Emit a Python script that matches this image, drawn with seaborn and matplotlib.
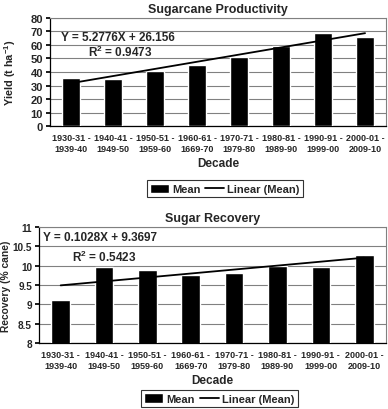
import numpy as np
import matplotlib.pyplot as plt
import seaborn as sns

decades = ["1930-31 -\n1939-40", "1940-41 -\n1949-50", "1950-51 -\n1959-60",
           "1960-61 -\n1669-70", "1970-71 -\n1979-80", "1980-81 -\n1989-90",
           "1990-91 -\n1999-00", "2000-01 -\n2009-10"]
yield_mean = [35.5, 34.8, 40.8, 45.5, 51.0, 59.5, 68.5, 66.0]
recovery_mean = [9.1, 9.97, 9.9, 9.75, 9.82, 10.0, 9.96, 10.28]

yield_eq = "Y = 5.2776X + 26.156"
yield_r2 = "R$^2$ = 0.9473"
rec_eq = "Y = 0.1028X + 9.3697"
rec_r2 = "R$^2$ = 0.5423"

sns.set_theme(style="white")
plt.rcParams['font.family'] = ['Liberation Sans', 'DejaVu Sans']
plt.rcParams['font.weight'] = 'bold'
plt.rcParams['mathtext.fontset'] = 'custom'
plt.rcParams['mathtext.bf'] = 'Liberation Sans:bold'
plt.rcParams['mathtext.rm'] = 'Liberation Sans:bold'
plt.rcParams['mathtext.default'] = 'bf'

fig = plt.figure(figsize=(3.88, 4.10), dpi=100)
ax1 = fig.add_axes([0.129, 0.690, 0.866, 0.264])
ax2 = fig.add_axes([0.1005, 0.161, 0.894, 0.283])

pos = np.arange(len(decades))


def draw(ax, values, title, ylabel, ylim, yticks, yticklabels, eq, r2, eqpos, r2pos,
         leg_y, ylab_x, ytick_size, ylab_size):
    bars = ax.bar(pos, values, width=0.43, color="black", zorder=3, label="Mean")
    sns.regplot(x=pos, y=values, ax=ax, scatter=False, ci=None, truncate=True,
                line_kws=dict(color="black", lw=1.3, zorder=4))
    trend = ax.lines[-1]
    ax.set_xlim(-0.5, len(decades) - 0.5)
    ax.set_ylim(*ylim)
    ax.set_yticks(yticks)
    ax.set_yticklabels(yticklabels, fontsize=ytick_size, fontweight="bold")
    ax.set_xticks(pos)
    ax.set_xticklabels(decades, fontsize=6.5, fontweight="bold", linespacing=1.25)
    ax.set_xticks(np.arange(-0.5, len(decades)), minor=True)
    ax.tick_params(axis="x", which="major", length=0, pad=5)
    ax.tick_params(axis="x", which="minor", length=3, color="black", direction="out")
    ax.tick_params(axis="y", length=3, color="black", direction="out", pad=2, left=True)
    ax.yaxis.grid(True, color="#808080", lw=0.8, zorder=0)
    ax.set_axisbelow(True)
    for s in ["top", "right"]:
        ax.spines[s].set_color("#808080")
        ax.spines[s].set_linewidth(0.8)
    for s in ["left", "bottom"]:
        ax.spines[s].set_color("black")
        ax.spines[s].set_linewidth(0.9)
    ax.set_title(title, fontsize=9, fontweight="bold", pad=4)
    ax.set_ylabel(ylabel, fontsize=ylab_size, fontweight="bold")
    ax.yaxis.set_label_coords(ylab_x, 0.5)
    ax.set_xlabel("Decade", fontsize=8.5, fontweight="bold", labelpad=3)
    ax.text(eqpos[0], eqpos[1], eq, fontsize=8.5, fontweight="bold", va="center")
    ax.text(r2pos[0], r2pos[1], r2, fontsize=8.5, fontweight="bold", va="center")
    leg = ax.legend([bars, trend], ["Mean", "Linear (Mean)"], loc="center",
                    bbox_to_anchor=(0.52, leg_y), ncol=2, frameon=True, fancybox=False,
                    edgecolor="black", handlelength=1.7, handleheight=0.9,
                    handletextpad=0.3, columnspacing=0.4, borderpad=0.3,
                    prop=dict(weight="bold", size=8))
    leg.get_frame().set_linewidth(0.8)


draw(ax1, yield_mean, "Sugarcane Productivity", "Yield (t ha$^{-1}$)",
     (0, 80), np.arange(0, 81, 10), [str(v) for v in range(0, 81, 10)],
     yield_eq, yield_r2, (-0.25, 65.5), (0.4, 55.5), -0.58, -0.095, 8, 7.8)
draw(ax2, recovery_mean, "Sugar Recovery", "Recovery (% cane)",
     (8, 11), np.arange(8, 11.01, 0.5), ["8", "8.5", "9", "9.5", "10", "10.5", "11"],
     rec_eq, rec_r2, (-0.4, 10.74), (0.25, 10.25), -0.48, -0.08, 7.2, 7.4)

fig.savefig("out.png", dpi=100)
